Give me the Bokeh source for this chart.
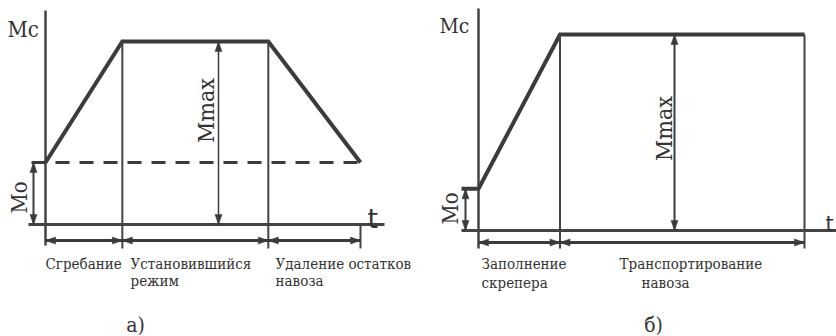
import numpy as np
from bokeh.plotting import figure
from bokeh.models import Range1d
from bokeh.layouts import row
from bokeh.core.properties import value
from bokeh.embed import file_html
from bokeh.resources import INLINE

# ---------------- data ----------------
# panel a: phase boundaries (time units) and torque levels (arbitrary units)
a_phase_t = [0, 10, 29, 41]
a_M0 = 20
a_Mmax = 59
a_phase_labels = [["Сгребание"], ["Установившийся", "режим"], ["Удаление остатков", "навоза"]]
a_caption = "а)"

# panel b
b_phase_t = [0, 10, 40]
b_M0 = 10
b_Mmax = 47
b_phase_labels = [["Заполнение", "скрепера"], ["Транспортирование", "навоза"]]
b_caption = "б)"

y_label = "Mc"
x_label = "t"
m0_label = "Mo"
mmax_label = "Mmax"

# ---------------- styles ----------------
THICK = "#3b3b3b"
THIN = "#444444"
TXT = "#333333"
SERIF = value("DejaVu Serif Condensed")
H = 336


class Panel:
    def __init__(self, left, width, ox, oy, sx, sy):
        self.ox, self.oy, self.sx, self.sy = ox, oy, sx, sy
        self.p = figure(width=width, height=H,
                        x_range=Range1d(self.ix(left), self.ix(left + width)),
                        y_range=Range1d(self.iy(H), self.iy(0)),
                        output_backend="svg", toolbar_location=None,
                        x_axis_location=None, y_axis_location=None,
                        min_border=0, outline_line_color=None)
        self.p.grid.visible = False
        self.p.background_fill_color = "white"
        self.p.border_fill_color = "white"

    # data -> page pixels and back
    def fx(self, t): return self.ox + t * self.sx
    def fy(self, m): return self.oy - m * self.sy
    def ix(self, px): return (px - self.ox) / self.sx
    def iy(self, py): return (self.oy - py) / self.sy

    def seg(self, t0, m0, t1, m1, w, color=THIN, dash="solid"):
        self.p.line([t0, t1], [m0, m1], line_width=w, line_color=color,
                    line_dash=dash, line_cap="butt")

    def darrow(self, t0, m0, t1, m1, w=2.5, hl=10, hw=3.5):
        self.seg(t0, m0, t1, m1, w, THICK)
        x0, y0, x1, y1 = self.fx(t0), self.fy(m0), self.fx(t1), self.fy(m1)
        d = np.array([x1 - x0, y1 - y0], float)
        d /= np.hypot(*d)
        n = np.array([-d[1], d[0]])
        xs, ys = [], []
        for tip, dd in (((x1, y1), d), ((x0, y0), -d)):
            tip = np.array(tip)
            base = tip - dd * hl
            pts = [tip, base + n * hw, base - n * hw]
            xs.append([self.ix(q[0]) for q in pts])
            ys.append([self.iy(q[1]) for q in pts])
        self.p.patches(xs, ys, fill_color=THICK, line_color=THICK, line_width=0.5)

    def text(self, px, py, s, size, align="left", baseline="alphabetic", angle=0.0,
             font=SERIF, color=TXT):
        self.p.text(x=[self.ix(px)], y=[self.iy(py)], text=[s], text_font=font,
                    text_font_size=size, text_align=align, text_baseline=baseline,
                    angle=angle, text_color=color)


# ---------------- panel a ----------------
A = Panel(0, 416, ox=45, oy=224,
          sx=(360 - 45) / a_phase_t[-1], sy=(224 - 41) / a_Mmax)
pa = A.p
tA = a_phase_t
A.seg(0, A.iy(245), 0, A.iy(10), 2.5)
A.seg(A.ix(28), 0, A.ix(384), 0, 3)
A.seg(A.ix(31), a_M0, tA[-1], a_M0, 3, THICK, dash="14 10")
pa.line([tA[0], tA[1], tA[2], tA[3]], [a_M0, a_Mmax, a_Mmax, a_M0],
        line_width=4, line_color=THICK, line_join="miter")
for t in tA[1:-1]:
    A.seg(t, a_Mmax, t, A.iy(248), 2)
A.seg(tA[-1], 0, tA[-1], A.iy(248), 2)
for t0, t1 in zip(tA[:-1], tA[1:]):
    A.darrow(t0, A.iy(240), t1, A.iy(240), 3)
A.darrow(A.ix(33), 0, A.ix(33), a_M0, 2)
A.darrow(A.ix(218), 0, A.ix(218), a_Mmax, 1.5)
A.text(7, 29, y_label, "22px")
A.text(367, 218, x_label, "27px", font=value("DejaVu Sans"))
A.text(19, 197, m0_label, "22px", align="center", baseline="middle", angle=np.pi / 2)
A.text(205, 110, mmax_label, "23px", align="center", baseline="middle", angle=np.pi / 2)
for lines, lx in zip(a_phase_labels, [45, 130, 275]):
    for k, s in enumerate(lines):
        A.text(lx, 263 + 17 * k, s, "15px")
A.text(135, 324, a_caption, "21px", align="center")

# ---------------- panel b ----------------
B = Panel(416, 420, ox=478, oy=230,
          sx=(804 - 478) / b_phase_t[-1], sy=(230 - 34) / b_Mmax)
pb = B.p
tB = b_phase_t
B.seg(0, B.iy(248), 0, B.iy(8), 2.5)
B.seg(B.ix(461), 0, B.ix(840), 0, 3)
pb.line([B.ix(461), tB[0], tB[1], tB[2]], [b_M0, b_M0, b_Mmax, b_Mmax],
        line_width=4, line_color=THICK, line_join="miter")
for t in tB[1:]:
    B.seg(t, b_Mmax, t, B.iy(248), 2)
for t0, t1 in zip(tB[:-1], tB[1:]):
    B.darrow(t0, B.iy(242), t1, B.iy(242), 3)
B.darrow(B.ix(465), 0, B.ix(465), b_M0, 2)
B.darrow(B.ix(674), 0, B.ix(674), b_Mmax, 2)
B.text(439, 25, y_label, "21px")
B.text(825, 223, x_label, "21px", font=value("DejaVu Sans"))
B.text(450, 208, m0_label, "22px", align="center", baseline="middle", angle=np.pi / 2)
B.text(663, 128, mmax_label, "23px", align="center", baseline="middle", angle=np.pi / 2)
for lines, lx in zip(b_phase_labels, [[481, 481], [619, 641]]):
    for k, s in enumerate(lines):
        B.text(lx[k], 263 + 19 * k, s, "15px")
B.text(653, 324, b_caption, "21px", align="center")

layout = row(pa, pb, spacing=0)
open("out.html", "w").write(file_html(layout, INLINE))
